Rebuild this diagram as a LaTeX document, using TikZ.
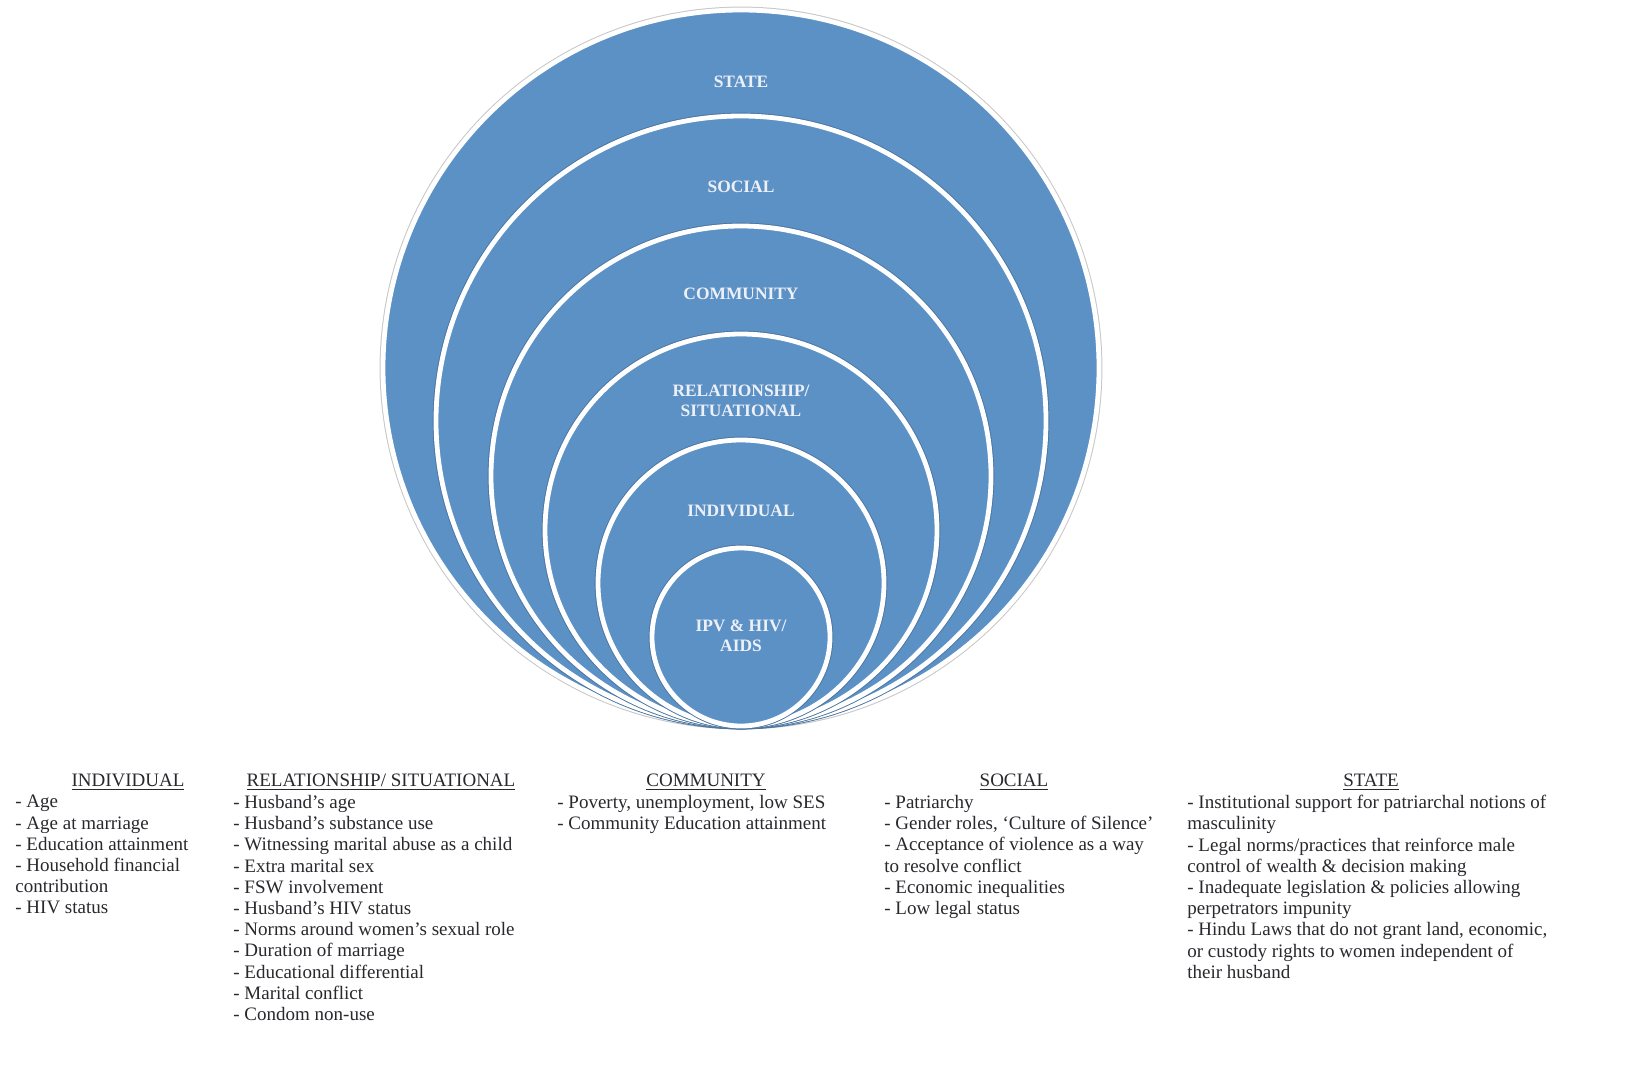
\documentclass[tikz,border=0pt]{standalone}
\usepackage{fontspec}
\setmainfont{Liberation Serif}
\definecolor{ringfill}{RGB}{92,145,198}
\definecolor{ringtext}{RGB}{238,240,248}
\definecolor{listtext}{RGB}{40,40,45}

\begin{document}
\begin{tikzpicture}[
  x=0.5pt, y=-0.5pt,
  ring/.style={fill=ringfill, draw=white, line width=2.4pt},
  ringshade/.style={draw=ringfill!80!black, line width=0.8pt},
  ringlabel/.style={text=ringtext, font=\bfseries\fontsize{8.7}{10}\selectfont, align=center},
  head/.style={text=listtext, font=\fontsize{9.5}{10.6}\selectfont, anchor=base},
  items/.style={text=listtext, font=\fontsize{9.5}{10.6}\selectfont, align=left, anchor=north west, inner sep=0pt}]
  \useasboundingbox (0,0) rectangle (1638,1070);
  % rings, all touching at the bottom
  \draw[draw=black!22, line width=1.4pt] (741,368) circle (360);
  \draw[ring] (741,368) circle (358);
  \foreach \r in {305,250,196,143,89}{
    \draw[ringshade] (741,726-\r) circle (\r+2.5);
    \draw[ring] (741,726-\r) circle (\r);
  }
  \node[ringlabel] (lblstate) at (741,82) {STATE};
  \node[ringlabel] (lblsocial) at (741,187) {SOCIAL};
  \node[ringlabel] (lblcommunity) at (741,294) {COMMUNITY};
  \node[ringlabel] (lblrelation) at (741,401) {RELATIONSHIP/\\SITUATIONAL};
  \node[ringlabel] (lblindividual) at (741,511) {INDIVIDUAL};
  \node[ringlabel] (lblcore) at (741,636) {IPV \& HIV/\\AIDS};

  % factor lists
  \node[head] (hindividual) at (128,786) {\underline{INDIVIDUAL}};
  \node[items] (lindividual) at (15,795) {- Age\\- Age at marriage\\- Education attainment\\- Household financial\\contribution\\- HIV status};

  \node[head] (hrelation) at (381,786) {\underline{RELATIONSHIP/ SITUATIONAL}};
  \node[items] (lrelation) at (233,795) {- Husband's age\\- Husband's substance use\\- Witnessing marital abuse as a child\\- Extra marital sex\\- FSW involvement\\- Husband's HIV status\\- Norms around women's sexual role\\- Duration of marriage\\- Educational differential\\- Marital conflict\\- Condom non-use};

  \node[head] (hcommunity) at (706,786) {\underline{COMMUNITY}};
  \node[items] (lcommunity) at (557,795) {- Poverty, unemployment, low SES\\- Community Education attainment};

  \node[head] (hsocial) at (1014,786) {\underline{SOCIAL}};
  \node[items] (lsocial) at (884,795) {- Patriarchy\\- Gender roles, `Culture of Silence'\\- Acceptance of violence as a way\\to resolve conflict\\- Economic inequalities\\- Low legal status};

  \node[head] (hstate) at (1371,786) {\underline{STATE}};
  \node[items] (lstate) at (1187,795) {- Institutional support for patriarchal notions of\\masculinity\\- Legal norms/practices that reinforce male\\control of wealth \& decision making\\- Inadequate legislation \& policies allowing\\perpetrators impunity\\- Hindu Laws that do not grant land, economic,\\or custody rights to women independent of\\their husband};
\end{tikzpicture}
\end{document}
